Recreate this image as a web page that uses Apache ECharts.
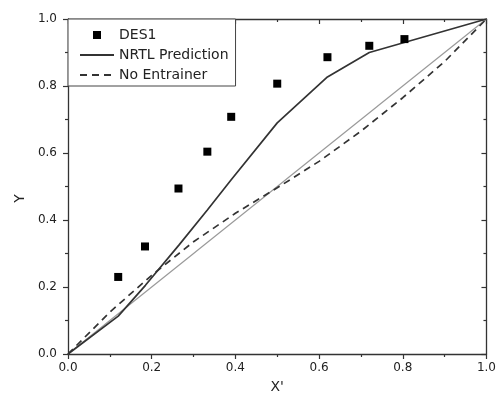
<!DOCTYPE html>
<html>
<head>
<meta charset="utf-8">
<script src="https://cdn.jsdelivr.net/npm/echarts@6/dist/echarts.min.js"></script>
<style>html,body{margin:0;padding:0;background:#fff;}#c{width:499px;height:405px;}</style>
</head>
<body>
<div id="c"></div>
<script>
// DES1 experimental points
const desX = [0.12, 0.184, 0.264, 0.333, 0.39, 0.50, 0.62, 0.72, 0.804];
const desY = [0.23, 0.321, 0.494, 0.604, 0.708, 0.807, 0.886, 0.92, 0.94];
// NRTL prediction
const nrtlX = [0, 0.12, 0.185, 0.265, 0.333, 0.39, 0.50, 0.62, 0.72, 1.0];
const nrtlY = [0, 0.113, 0.205, 0.325, 0.43, 0.52, 0.69, 0.827, 0.90, 1.0];
// No entrainer
const noEX = [0, 0.1, 0.2, 0.3, 0.4, 0.5, 0.6, 0.7, 0.8, 0.9, 1.0];
const noEY = [0, 0.125, 0.235, 0.335, 0.42, 0.496, 0.575, 0.665, 0.765, 0.873, 1.0];
// diagonal y = x
const diagX = [0, 1];
const diagY = [0, 1];
const tickLabels = ['0.0', '0.2', '0.4', '0.6', '0.8', '1.0'];

const zip = (a, b) => a.map((v, i) => [v, b[i]]);
const font = 'DejaVu Sans';
const axisColor = '#333';

function mkAxis(pos, main, isX) {
  return {
    type: 'value', min: 0, max: 1, interval: 0.2, position: pos,
    axisLine: { show: true, onZero: false, lineStyle: { color: axisColor, width: 1.3 } },
    axisTick: { show: true, inside: !main, length: 5, lineStyle: { color: axisColor, width: 1.2 } },
    minorTick: { show: true, splitNumber: 2, length: 3, lineStyle: { color: axisColor, width: 1.2 } },
    splitLine: { show: false },
    axisLabel: main ? {
      show: true, margin: isX ? 8 : 11, color: '#222', fontFamily: font, fontSize: 12,
      formatter: v => tickLabels[Math.round(v / 0.2)] ?? ''
    } : { show: false }
  };
}

const xMain = Object.assign(mkAxis('bottom', true, true), {
  name: "X'", nameLocation: 'middle', nameGap: 26,
  nameTextStyle: { color: '#222', fontFamily: font, fontSize: 14 }
});
const yMain = Object.assign(mkAxis('left', true, false), {
  name: 'Y', nameLocation: 'middle', nameGap: 36,
  nameTextStyle: { color: '#222', fontFamily: font, fontSize: 14, padding: [0, 24, 0, 0] }
});

const chart = echarts.init(document.getElementById('c'), null, { renderer: 'canvas' });
chart.setOption({
  animation: false,
  backgroundColor: '#fff',
  grid: { left: 68, right: 10, top: 19, bottom: 51, containLabel: false },
  xAxis: [xMain, mkAxis('top', false, true)],
  yAxis: [yMain, mkAxis('right', false, false)],
  legend: {
    orient: 'vertical', left: 68, top: 19,
    data: [{ name: 'DES1', icon: 'path://M0 0H10V10H0Z' }, 'NRTL Prediction', 'No Entrainer'],
    itemWidth: 34, itemHeight: 8, itemGap: 6,
    symbolKeepAspect: true,
    padding: [9, 7, 4, 11],
    borderColor: '#444', borderWidth: 1, borderRadius: 0,
    backgroundColor: '#fff',
    textStyle: { color: '#222', fontFamily: font, fontSize: 14 }
  },
  series: [
    {
      name: 'diag', type: 'line', data: zip(diagX, diagY), symbol: 'none', silent: true,
      lineStyle: { color: '#9a9a9a', width: 1.2 }, z: 1
    },
    {
      name: 'No Entrainer', type: 'line', data: zip(noEX, noEY), symbol: 'none',
      lineStyle: { color: '#333', width: 1.7, type: [7, 5] },
      itemStyle: { color: 'rgba(0,0,0,0)', borderWidth: 0 }, z: 2
    },
    {
      name: 'NRTL Prediction', type: 'line', data: zip(nrtlX, nrtlY), symbol: 'none',
      lineStyle: { color: '#333', width: 1.7 },
      itemStyle: { color: 'rgba(0,0,0,0)', borderWidth: 0 }, z: 3
    },
    {
      name: 'DES1', type: 'scatter', data: zip(desX, desY), symbol: 'rect', symbolSize: 8,
      itemStyle: { color: '#000', opacity: 1 }, z: 4
    }
  ]
});
</script>
</body>
</html>
